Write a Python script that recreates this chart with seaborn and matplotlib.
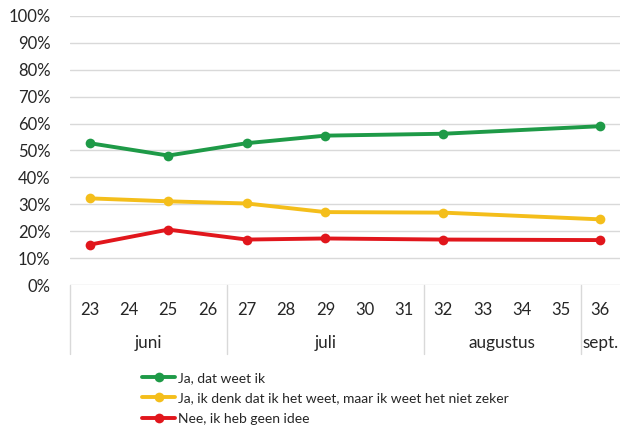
import matplotlib
matplotlib.use("Agg")
import matplotlib.pyplot as plt
import matplotlib.transforms as mtransforms
import seaborn as sns
import pandas as pd

# data
weeks = [23, 25, 27, 29, 32, 36]
ja_weet = [52.7, 48.1, 52.7, 55.5, 56.2, 59.0]
ja_denk = [32.2, 31.1, 30.3, 27.1, 26.9, 24.4]
nee = [15.0, 20.6, 16.9, 17.3, 16.9, 16.7]

series_names = ["Ja, dat weet ik",
                "Ja, ik denk dat ik het weet, maar ik weet het niet zeker",
                "Nee, ik heb geen idee"]
colors = ["#1E9A47", "#F4BE1B", "#E1161C"]

all_weeks = list(range(23, 37))
months = ["juni", "juli", "augustus", "sept."]
month_weeks = [[23, 24, 25, 26], [27, 28, 29, 30, 31], [32, 33, 34, 35], [36]]

df = pd.DataFrame({"week": weeks * 3,
                   "pct": ja_weet + ja_denk + nee,
                   "reeks": [series_names[0]] * 6 + [series_names[1]] * 6 + [series_names[2]] * 6})

sns.set_theme(style="white")
plt.rcParams["font.family"] = ["Lato", "DejaVu Sans"]

fig = plt.figure(figsize=(6.2, 4.28), dpi=100)
ax = fig.add_axes([0.113, 0.334, 0.887, 0.629])

sns.lineplot(data=df, x="week", y="pct", hue="reeks", palette=colors,
             marker="o", markersize=7, markeredgewidth=0, linewidth=2.8, ax=ax)

ax.set_xlim(22.5, 36.5)
ax.set_ylim(0, 100)
ax.set_yticks(range(0, 101, 10))
ax.set_yticklabels([f"{v}%" for v in range(0, 101, 10)], fontsize=12, color="#262626")
ax.yaxis.grid(True, color="#D9D9D9", linewidth=1)
ax.set_axisbelow(True)
for s in ax.spines.values():
    s.set_visible(False)
ax.tick_params(axis="y", length=0, pad=14)

ax.set_xticks(all_weeks)
ax.set_xticklabels([str(w) for w in all_weeks], fontsize=12, color="#262626")
ax.tick_params(axis="x", length=0, pad=12)
ax.set_xlabel("")
ax.set_ylabel("")

# month boxes below the axis
trans = mtransforms.blended_transform_factory(ax.transData, ax.transAxes)
box_bottom = -0.255
for sep in [22.5, 26.5, 31.5, 35.5]:
    ax.plot([sep, sep], [0, box_bottom], transform=trans, color="#D9D9D9",
            linewidth=1, clip_on=False)
for name, wk in zip(months, month_weeks):
    center = (wk[0] + wk[-1]) / 2
    ax.text(center, -0.215, name, transform=trans, ha="center", va="center",
            fontsize=12.3, color="#262626")

ax.legend(loc="upper left", bbox_to_anchor=(0.131, -0.322), frameon=False,
          fontsize=10, handlelength=2.4, handletextpad=0.2, labelspacing=0.62,
          borderaxespad=0, borderpad=0)
leg = ax.get_legend()
for t in leg.get_texts():
    t.set_color("#262626")

plt.savefig("out.png", dpi=100)
